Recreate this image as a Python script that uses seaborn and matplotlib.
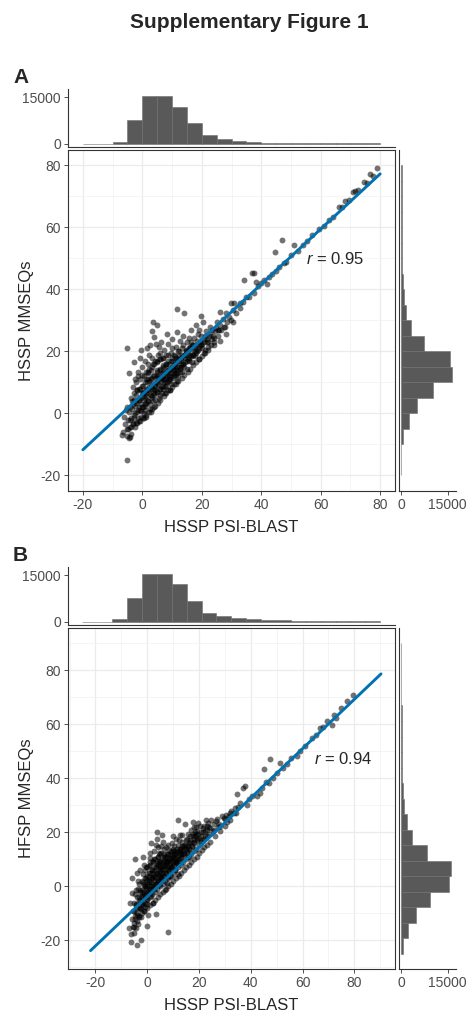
import numpy as np
import matplotlib
matplotlib.use("Agg")
import matplotlib.pyplot as plt
from matplotlib.ticker import MultipleLocator, FixedLocator
import seaborn as sns

# ---- panel A: HSSP PSI-BLAST vs HSSP MMSEQs
a_x = [-5.3, -5.1, -6.8, -4.2,
       -6.5, -5.8, -5.2, -4.5, -4.8, -4.2, -6.0, -5.0, -4.4, -3.8, -3.5, -4.6, -3.1, -3.8,
       -2.8, -2.5, -2.2, -2.9, -1.8, -1.5, -1.2, -1.0, -0.9, -0.8, -0.5, -0.3, -0.2, -2.0, -1.5, 0.0, -0.6,
       0.5, 0.8, 1.0, 1.2, 1.5, 1.8, 2.0, 2.2, 2.5, 0.3, 0.6, 1.0, 1.4, 2.8, 2.4, 2.9, 3.0, 2.7, 1.7, 3.2, 3.6, 4.0, 1.1, 3.3,
       3.5, 4.0, 4.2, 4.5, 4.8, 5.0, 5.1, 5.4, 5.7, 6.0, 6.2, 6.5, 6.8, 7.0, 5.5, 3.8, 4.6, 6.3, 7.2, 6.7, 5.2, 3.7,
       7.5, 7.8, 8.0, 8.3, 8.6, 9.0, 9.2, 9.5, 9.8, 10.0, 10.3, 10.6, 10.9, 8.8, 9.4, 11.0, 7.3, 10.1, 8.2,
       11.3, 11.6, 11.8, 11.7, 12.0, 12.3, 12.6, 13.0, 13.3, 13.6, 14.0, 14.1, 14.4, 14.8, 15.0, 12.8, 11.5, 13.8,
       15.3, 15.7, 16.0, 16.3, 16.8, 17.0, 17.4, 17.8, 18.0, 18.5, 18.8, 19.2, 19.5, 19.9, 20.0, 16.5, 18.2,
       20.4, 20.8, 21.2, 21.5, 22.0, 22.4, 22.7, 23.0, 23.5, 24.0, 24.6, 25.0, 25.4, 26.0, 26.0, 26.5, 27.0, 27.5,
       28.2, 28.5, 29.0, 29.9, 29.9, 30.4, 31.0, 30.5,
       31.5, 32.7, 33.0, 34.0, 34.3, 35.0, 36.0, 36.9, 37.7, 37.5, 38.2, 39.0, 40.0, 41.0, 42.1, 42.7, 43.5, 44.7,
       45.0, 46.0, 47.1, 47.5, 48.5, 50.0, 51.0, 52.5, 54.0, 55.5, 57.0, 59.3, 61.0, 62.7, 64.0, 66.0, 67.2, 68.2,
       69.5, 71.0, 71.6, 72.5, 74.7, 75.5, 76.6, 77.5, 79.0]
a_y = [-14.9, 21.0, -6.9, -7.7,
       -6.0, -3.5, -7.2, -8.0, -5.0, -2.0, -1.0, 2.0, 0.5, -4.5, 4.0, 13.0, 8.7, -6.5,
       -1.5, 2.5, 6.0, 16.7, -3.0, 1.0, 4.5, 8.0, 18.0, 11.0, -1.0, 3.0, 6.5, 10.0, 13.5, 15.0, 20.5,
       0.0, 2.5, 5.0, 7.5, 10.0, 13.0, 16.0, 19.0, 22.0, 9.0, 12.0, 17.0, 3.5, 6.0, 8.5, 11.0, 14.0, 1.5, 21.0, 26.6, 29.6, 24.8, -1.0, 18.0,
       4.0, 6.5, 9.0, 11.5, 14.0, 16.5, 28.5, 19.0, 21.5, 8.0, 10.5, 13.0, 15.5, 18.0, 5.0, 2.0, 22.5, 23.0, 11.0, 6.5, 12.5, 16.0,
       8.5, 13.5, 16.0, 10.0, 19.0, 12.0, 14.5, 9.5, 17.0, 21.0, 11.5, 14.0, 18.5, 22.5, 7.5, 16.0, 20.5, 24.0, 25.5,
       12.5, 26.4, 33.6, 15.0, 17.5, 20.0, 13.5, 16.0, 19.0, 22.0, 15.0, 32.3, 18.0, 20.5, 14.5, 23.5, 10.5, 25.0,
       17.5, 21.0, 19.0, 23.0, 16.5, 20.5, 24.5, 18.5, 22.0, 20.0, 25.5, 17.5, 23.0, 31.4, 21.0, 27.0, 28.5,
       29.6, 24.0, 20.5, 26.5, 23.0, 25.0, 28.0, 22.0, 27.0, 24.5, 26.5, 29.5, 25.0, 32.8, 28.5, 27.0, 30.5, 28.0,
       32.3, 29.5, 31.0, 30.1, 35.7, 33.3, 35.5, 29.5,
       32.5, 35.5, 34.0, 36.0, 43.2, 37.5, 37.6, 45.3, 45.3, 39.0, 42.5, 41.0, 42.0, 43.0, 41.9, 44.1, 45.0, 52.1,
       46.0, 47.3, 56.1, 48.5, 49.0, 51.0, 54.2, 52.5, 54.5, 55.5, 57.5, 59.6, 60.5, 62.3, 63.5, 66.6, 66.5, 68.7,
       69.0, 71.4, 71.9, 72.0, 74.6, 74.5, 77.3, 76.5, 79.2]
# denser core of the A cloud
a_core_x = [-3.2, -2.6, -2.1, -1.6, -1.1, -0.7, -0.4, -2.4, -3.5, -1.9, -0.9, -2.7,
            0.2, 0.4, 0.7, 0.9, 1.3, 1.6, 1.9, 2.1, 2.3, 2.6, 2.9, 3.1, 3.4, 3.6, 3.9, 0.1, 1.2, 0.6, 3.0, 2.0,
            4.1, 4.3, 4.6, 4.9, 5.1, 5.3, 5.6, 5.9, 6.1, 6.4, 6.6, 6.9, 7.1, 7.4, 7.6, 7.9, 4.4, 5.8, 7.7, 6.0,
            8.1, 8.4, 8.7, 8.9, 9.1, 9.3, 9.6, 9.9, 10.2, 10.4, 10.7, 11.0, 11.2, 11.5, 11.8, 8.5, 10.8, 9.7, 11.4, 12.0,
            12.2, 12.5, 12.8, 13.1, 13.4, 13.7, 14.0, 14.3, 14.6, 15.0, 15.3, 15.6, 16.0, 16.4, 16.8, 17.2, 17.6, 18.0, 13.2, 15.8,
            18.4, 18.8, 19.3, 19.7, 20.2, 20.6, 21.0, 21.6, 22.2, 22.8, 23.4, 24.2, 24.8, 25.6, 19.0]
a_core_y = [-3.0, 0.0, 3.5, -1.5, 2.0, 5.0, 0.8, -4.5, 1.5, 7.5, -2.5, 4.5,
            2.0, 4.5, 7.0, 1.0, 5.5, 8.0, 4.0, 6.5, 10.5, 3.0, 8.5, 5.5, 9.5, 12.0, 7.5, 6.5, 11.0, -1.5, 0.5, 13.5,
            4.5, 7.5, 10.0, 12.0, 7.0, 9.5, 11.5, 14.5, 6.0, 9.0, 11.5, 13.5, 8.0, 10.0, 15.0, 11.5, 17.0, 17.5, 6.5, 19.5,
            9.0, 12.0, 14.0, 10.5, 16.0, 11.0, 13.0, 15.0, 13.0, 17.0, 12.0, 14.5, 18.0, 13.0, 17.0, 7.5, 9.5, 19.5, 21.5, 12.0,
            15.0, 18.5, 14.5, 17.5, 21.0, 16.0, 19.0, 16.5, 20.0, 23.0, 19.5, 17.0, 21.5, 18.5, 22.0, 19.0, 21.5, 19.5, 13.5, 24.5,
            23.5, 20.5, 22.0, 25.0, 22.5, 19.5, 25.0, 23.0, 21.5, 25.5, 24.0, 23.0, 27.5, 27.0, 27.0]
a_band_x = [-5.2, -4.9, -5.4,
            -4.1, -3.8, -4.3, -3.9,
            -3.1, -2.8, -3.3, -2.9,
            -2.2, -1.9, -2.1, -1.7, -2.3,
            -1.1, -0.8, -1.2, -0.9, -1.3,
            0.1, -0.2, 0.3, 0.0, -0.1,
            1.2, 0.9, 1.1, 0.8, 1.3,
            2.1, 1.8, 2.2, 1.9, 2.3,
            3.2, 2.9, 3.1, 2.8, 3.3,
            4.1, 3.8, 4.2, 3.9, 4.0,
            5.2, 4.9, 5.1, 4.8, 5.0,
            6.1, 5.8, 6.2, 5.9, 6.0,
            7.2, 6.9, 7.1, 6.8, 7.0,
            8.1, 7.8, 8.2, 7.9, 8.0,
            9.2, 8.9, 9.1, 8.8,
            10.1, 9.8, 10.2, 9.9,
            11.2, 10.9, 11.1, 10.8,
            12.1, 11.8, 12.2, 11.9,
            13.2, 12.9, 13.1,
            14.1, 13.8, 14.2,
            15.2, 14.9, 15.1,
            16.1, 15.8, 16.2,
            17.2, 16.9, 17.1,
            18.1, 17.8,
            19.2, 18.9,
            20.1, 19.8,
            21.2, 20.9,
            22.1, 21.8,
            24.2, 23.9,
            26.1, 25.8,
            28.2, 27.9]
a_band_y = [-5.0, -2.0, 1.0,
            -4.5, -1.5, 2.0, 5.0,
            -3.5, -0.5, 3.0, 6.5,
            -3.0, 0.5, 4.0, 7.5, 11.0,
            -2.5, 1.0, 4.5, 8.0, 12.0,
            -1.5, 2.0, 5.5, 9.0, 12.5,
            -0.5, 3.0, 6.5, 10.0, 13.5,
            0.5, 4.0, 7.5, 11.0, 14.5,
            1.5, 5.0, 8.0, 11.5, 15.0,
            2.5, 6.0, 9.0, 12.5, 16.0,
            3.5, 7.0, 10.0, 13.5, 17.0,
            4.5, 8.0, 11.0, 14.0, 17.5,
            5.5, 9.0, 12.0, 15.0, 18.0,
            6.5, 10.0, 13.0, 16.0, 19.0,
            7.5, 11.0, 14.0, 17.0,
            8.5, 12.0, 15.0, 18.0,
            9.5, 13.0, 16.0, 19.0,
            10.5, 14.0, 17.0, 20.0,
            11.5, 15.0, 18.0,
            12.5, 16.0, 19.0,
            13.5, 17.0, 20.0,
            14.5, 18.0, 21.0,
            15.5, 19.0, 22.0,
            16.5, 20.0,
            17.5, 21.0,
            18.5, 22.0,
            19.5, 23.0,
            20.5, 24.0,
            22.0, 25.0,
            23.5, 27.0,
            25.5, 28.0]
a_fit_x = [-20, 80]
a_fit_y = [-11.7, 77.3]
a_r = 0.95

# marginal histograms for A (bin edges and counts)
a_edges = [-20, -15, -10, -5, 0, 5, 10, 15, 20, 25, 30, 35, 40, 45, 50, 55, 60, 65, 70, 75, 80]
a_top_counts = [20, 60, 750, 7550, 15540, 15320, 11980, 6800, 2800, 1620,
                1080, 650, 430, 430, 320, 320, 220, 220, 300, 200]
a_right_counts = [30, 60, 540, 2700, 5000, 10200, 16500, 15750, 7400, 3100,
                  1600, 860, 540, 430, 320, 320, 220, 220, 220, 200]

# ---- panel B: HSSP PSI-BLAST vs HFSP MMSEQs
b_x = [-7.1, -6.4, -5.1, -3.8, -2.5, -6.0, -5.5, -5.0, -4.5, -4.9, -4.0, -3.5, -3.2, -6.5, -4.2, -3.0, -5.8, -3.6,
       -2.5, -2.2, -2.0, -1.8, -1.5, -1.2, -1.0, -0.8, -0.5, -0.3, 0.0, 0.2, 0.5, 0.7, 0.9, 1.0, -1.4, -2.8, -0.1, 0.4,
       1.3, 1.5, 1.8, 2.0, 2.3, 2.5, 2.8, 3.0, 3.2, 3.3, 3.6, 3.6, 3.9, 4.0, 4.2, 4.4, 4.6, 4.8, 5.0, 1.6, 2.1, 3.4,
       5.3, 5.5, 5.8, 5.8, 6.0, 6.3, 6.6, 6.9, 7.2, 7.5, 7.8, 7.8, 8.1, 8.2, 8.5, 8.8, 9.0, 6.1, 7.0, 8.6,
       9.3, 9.6, 9.9, 10.2, 10.5, 10.8, 11.0, 11.3, 11.6, 12.0, 12.0, 12.3, 12.6, 13.0, 13.3, 13.6, 14.0, 10.0, 11.8,
       14.3, 14.6, 14.8, 15.2, 15.5, 15.9, 16.2, 16.5, 17.0, 17.3, 17.7, 18.1, 18.5, 18.9, 19.3, 19.8, 20.4, 20.6, 16.0, 17.5,
       21.0, 21.5, 22.0, 22.5, 23.2, 23.6, 24.2, 24.8, 25.3, 25.8, 26.4, 27.0, 27.5, 28.3, 28.8, 29.5, 30.3, 30.8,
       31.5, 32.5, 33.5, 34.8, 35.0, 36.0, 37.1, 37.6, 38.6, 39.5, 40.5, 42.5, 43.5, 44.5, 45.1, 46.0, 47.0, 47.6,
       48.5, 50.0, 51.2, 52.5, 54.0, 55.5, 57.9, 59.2, 61.0, 63.7, 65.0, 66.9, 68.0, 69.5, 71.4, 72.1, 73.0, 74.7,
       77.2, 79.5]
b_y = [-15.4, -20.7, -17.2, -21.6, -20.0, -12.0, -9.0, -13.5, -6.5, 10.2, -10.5, -14.0, -4.0, -6.0, -1.5, -8.0, -2.5, 2.0,
       -11.5, -6.0, -2.0, 1.5, 4.5, -9.0, -4.0, 0.0, 3.0, 7.0, -6.5, -2.0, 1.5, 5.0, 9.0, 12.4, 8.0, 6.0, -14.5, -10.5,
       -3.5, 0.0, 3.0, 6.0, 9.5, 13.0, -1.0, 2.0, -10.1, 5.0, 8.0, 20.2, 17.6, 11.0, 14.5, 0.5, 3.5, 6.5, 9.5, 16.0, -6.0, 15.5,
       12.5, 2.0, 19.2, 5.0, 8.0, 11.0, 14.0, 3.5, 6.5, 9.0, 1.3, 12.0, -17.0, 15.5, 5.5, 8.0, 10.5, 16.5, -1.5, 13.5,
       4.0, 7.0, 9.5, 12.0, 15.0, 6.0, 8.5, 11.0, 14.0, 24.7, 9.5, 17.0, 12.5, 10.5, 15.0, 19.0, 12.0, 18.5, 4.5,
       14.5, 23.2, 17.0, 12.5, 15.5, 19.5, 14.0, 17.0, 21.0, 15.0, 18.5, 16.5, 20.0, 22.0, 17.5, 19.5, 22.3, 18.6, 11.0, 24.0,
       17.0, 20.0, 22.5, 18.5, 21.0, 23.5, 21.5, 24.5, 20.5, 23.0, 24.1, 25.0, 22.0, 22.3, 26.0, 25.5, 26.6, 24.0,
       26.0, 28.0, 27.2, 34.4, 29.5, 31.0, 36.5, 37.1, 30.3, 32.5, 33.5, 33.4, 34.6, 36.5, 43.5, 38.5, 38.3, 47.2,
       40.0, 42.0, 45.7, 44.0, 45.5, 47.5, 48.2, 50.0, 52.0, 55.0, 56.0, 58.7, 59.0, 61.1, 59.9, 63.6, 62.5, 66.1,
       68.6, 70.7]
# denser core of the B cloud
b_core_x = [-5.6, -4.8, -4.3, -3.9, -3.3, -2.9, -2.4, -2.1, -5.3, -4.6, -3.7, -6.2, -2.7, -4.1, -5.9,
            -1.7, -1.3, -1.1, -0.8, -0.6, -0.3, -0.1, 0.1, 0.3, 0.6, 0.8, 1.1, 1.4, 1.7, 1.9, -1.6, 0.5, 1.2,
            2.2, 2.4, 2.6, 2.9, 3.1, 3.4, 3.7, 3.9, 4.1, 4.3, 4.5, 4.7, 4.9, 5.1, 5.4, 5.6, 5.9, 2.7, 4.4, 5.2,
            6.2, 6.4, 6.7, 6.9, 7.1, 7.4, 7.6, 7.9, 8.3, 8.5, 8.8, 9.0, 9.2, 9.5, 9.8, 6.5, 7.3, 8.1, 9.6,
            10.1, 10.4, 10.7, 11.0, 11.3, 11.6, 11.9, 12.2, 12.5, 12.9, 13.2, 13.5, 13.9, 14.2, 14.6, 15.0, 15.4, 15.8, 12.7, 11.2,
            16.3, 16.7, 17.1, 17.6, 18.0, 18.4, 18.9, 19.4, 20.0, 20.8, 21.5, 22.3, 23.0, 23.8, 19.7, 17.9, 22.7]
b_core_y = [-15.0, -11.0, -15.5, -8.0, -11.5, -5.5, -8.5, -3.5, -6.0, -3.0, -1.0, -17.5, -1.5, 5.0, 3.0,
            -6.5, -2.0, 1.0, -7.5, -3.0, -0.5, 2.5, -4.5, 0.0, -1.0, 3.5, -2.5, 1.5, 5.0, -1.0, 11.0, 7.5, 10.5,
            1.0, 3.5, 6.0, 0.0, 3.5, 7.0, 1.5, 4.5, 8.5, 2.5, 5.5, 9.0, 4.0, 7.0, 3.5, 6.5, 9.0, 10.0, 12.5, 15.0,
            5.0, 7.5, 9.5, 5.5, 8.5, 11.0, 7.0, 9.5, 7.0, 10.0, 12.0, 6.5, 9.0, 11.5, 13.0, 12.0, 14.5, 3.5, 16.0,
            8.5, 10.5, 13.0, 10.0, 12.5, 9.0, 15.5, 11.5, 14.0, 12.0, 13.0, 16.5, 14.0, 12.5, 15.5, 14.0, 17.5, 15.0, 19.0, 17.5,
            16.0, 18.5, 16.5, 19.5, 17.5, 18.5, 19.5, 20.5, 18.0, 20.0, 21.5, 20.5, 22.5, 22.0, 23.5, 22.0, 24.5]
b_band_x = [-5.1, -4.8, -5.2,
            -4.1, -3.9, -4.2, -3.8,
            -3.1, -2.9, -3.2, -2.8, -3.0,
            -2.1, -1.9, -2.2, -1.8, -2.0,
            -1.1, -0.9, -1.2, -0.8, -1.0, -0.9,
            0.1, -0.1, 0.2, -0.2, 0.0, 0.1,
            1.1, 0.9, 1.2, 0.8, 1.0, 0.9,
            2.1, 1.9, 2.2, 1.8, 2.0, 2.1,
            3.1, 2.9, 3.2, 2.8, 3.0, 2.9,
            4.1, 3.9, 4.2, 3.8, 4.0, 4.1,
            5.1, 4.9, 5.2, 4.8, 5.0, 4.9,
            6.1, 5.9, 6.2, 5.8, 6.0,
            7.1, 6.9, 7.2, 6.8, 7.0,
            8.1, 7.9, 8.2, 7.8, 8.0,
            9.1, 8.9, 9.2, 8.8, 9.0,
            10.1, 9.9, 10.2, 9.8, 10.0,
            11.1, 10.9, 11.2, 10.8,
            12.1, 11.9, 12.2, 11.8,
            13.1, 12.9, 13.2, 12.8,
            14.1, 13.9, 14.2, 13.8,
            15.1, 14.9, 15.2,
            16.1, 15.9, 16.2,
            17.1, 16.9, 17.2,
            18.1, 17.9, 18.2,
            19.1, 18.9, 19.2,
            20.1, 19.9,
            21.1, 20.9,
            22.1, 21.9,
            23.1, 22.9,
            24.1, 23.9,
            26.1, 25.9,
            28.1, 27.9,
            30.1, 29.9,
            32.1, 31.9,
            34.1, 33.9]
b_band_y = [-15.0, -12.0, -9.0,
            -13.0, -10.0, -7.0, -4.0,
            -11.0, -8.0, -5.0, -2.0, 1.0,
            -10.0, -7.0, -4.0, -1.0, 2.0,
            -9.0, -6.0, -3.0, 0.0, 3.0, 6.0,
            -8.0, -5.0, -2.0, 1.0, 4.0, 7.0,
            -7.0, -4.0, -1.0, 2.0, 5.0, 8.0,
            -6.0, -3.0, 0.0, 3.0, 6.0, 9.0,
            -5.0, -2.0, 1.0, 4.0, 7.0, 10.0,
            -4.0, -1.0, 2.0, 5.0, 8.0, 11.0,
            -3.0, 0.0, 3.0, 6.0, 9.0, 12.0,
            -2.0, 1.0, 4.0, 7.0, 10.0,
            -1.0, 2.0, 5.0, 8.0, 11.0,
            0.0, 3.0, 6.0, 9.0, 12.0,
            1.0, 4.0, 7.0, 10.0, 13.0,
            2.0, 5.0, 8.0, 11.0, 14.0,
            3.0, 6.0, 9.0, 12.0,
            4.0, 7.0, 10.0, 13.0,
            5.0, 8.0, 11.0, 14.0,
            6.0, 9.0, 12.0, 15.0,
            7.0, 10.0, 13.0,
            8.0, 11.0, 14.0,
            9.0, 12.0, 15.0,
            10.0, 13.0, 16.0,
            11.0, 14.0, 17.0,
            12.5, 15.5,
            13.5, 16.5,
            14.5, 17.5,
            15.5, 18.5,
            16.5, 19.5,
            18.5, 21.0,
            20.5, 23.0,
            22.5, 25.0,
            24.5, 27.0,
            27.0, 29.0]
b_fit_x = [-21.9, 90.3]
b_fit_y = [-23.8, 78.7]
b_r = 0.94

b_edges = [-25, -19.25, -13.5, -7.75, -2, 3.75, 9.5, 15.25, 21, 26.75, 32.5,
           38.25, 44, 49.75, 55.5, 61.25, 67, 72.75, 78.5, 84.25, 90]
b_top_counts = [20, 50, 860, 7600, 15540, 15320, 12100, 6860, 3000, 1820,
                1180, 860, 640, 540, 430, 430, 320, 320, 430, 320]
b_right_counts = [750, 2360, 4820, 9320, 15300, 16070, 8250, 3540, 1820, 960,
                  640, 430, 320, 220, 220, 220, 150, 150, 0, 0]

panels = [
    dict(tag="A", x=a_x + a_core_x + a_band_x, y=a_y + a_core_y + a_band_y,
         fx=a_fit_x, fy=a_fit_y, r=a_r,
         edges=a_edges, top=a_top_counts, right=a_right_counts, ylab="HSSP MMSEQs",
         lim=(-25, 85), rpos=(64.7, 49.7), y0=89),
    dict(tag="B", x=b_x + b_core_x + b_band_x, y=b_y + b_core_y + b_band_y,
         fx=b_fit_x, fy=b_fit_y, r=b_r,
         edges=b_edges, top=b_top_counts, right=b_right_counts, ylab="HFSP MMSEQs",
         lim=(-30.6, 95.7), rpos=(75.6, 47.3), y0=567),
]

sns.set_theme(style="white")
plt.rcParams["font.family"] = ["Liberation Sans", "DejaVu Sans"]
plt.rcParams["mathtext.fontset"] = "custom"
plt.rcParams["mathtext.it"] = "Liberation Sans:italic"
plt.rcParams["mathtext.rm"] = "Liberation Sans"
plt.rcParams["axes.unicode_minus"] = False

W, H = 468, 1014
fig = plt.figure(figsize=(W / 100, H / 100), dpi=100)


def box(x0, y0, x1, y1):
    return [x0 / W, 1 - y1 / H, (x1 - x0) / W, (y1 - y0) / H]


tick_kw = dict(labelsize=10, labelcolor="#4D4D4D", color="#333333", length=3, width=0.6, pad=2)
hist_color = "#595959"

fig.text(249 / W, 1 - 22 / H, "Supplementary Figure 1", ha="center", va="center",
         fontsize=15, fontweight="bold")

for p in panels:
    t = p["y0"]
    ax = fig.add_axes(box(68, t + 61, 395, t + 402))
    axt = fig.add_axes(box(68, t, 395, t + 58), sharex=ax)
    axr = fig.add_axes(box(399, t + 61, 456, t + 402), sharey=ax)

    # main scatter
    sns.scatterplot(x=p["x"], y=p["y"], ax=ax, color="black", alpha=0.55, s=18,
                    linewidth=0, zorder=3)
    sns.lineplot(x=p["fx"], y=p["fy"], ax=ax, color="#0072B2", linewidth=2.1, zorder=4)
    ax.set_xlim(*p["lim"])
    ax.set_ylim(*p["lim"])
    ax.xaxis.set_major_locator(FixedLocator([-20, 0, 20, 40, 60, 80]))
    ax.yaxis.set_major_locator(FixedLocator([-20, 0, 20, 40, 60, 80]))
    ax.xaxis.set_minor_locator(MultipleLocator(10))
    ax.yaxis.set_minor_locator(MultipleLocator(10))
    ax.grid(which="major", color="#EBEBEB", linewidth=0.9)
    ax.grid(which="minor", color="#F2F2F2", linewidth=0.6)
    ax.set_axisbelow(True)
    for s in ax.spines.values():
        s.set_color("#333333")
        s.set_linewidth(0.8)
    ax.tick_params(which="major", bottom=True, left=True, **tick_kw)
    ax.tick_params(which="minor", bottom=False, left=False)
    ax.set_xlabel("HSSP PSI-BLAST", fontsize=12, labelpad=6)
    ax.set_ylabel(p["ylab"], fontsize=12, labelpad=5)
    ax.text(p["rpos"][0], p["rpos"][1], r"$r$ = %.2f" % p["r"], fontsize=12,
            ha="center", va="center")

    # top marginal
    centers = [(a + b) / 2 for a, b in zip(p["edges"][:-1], p["edges"][1:])]
    sns.histplot(x=centers, weights=p["top"], bins=p["edges"], ax=axt,
                 color=hist_color, alpha=1, edgecolor="#6E6E6E", linewidth=0.4)
    axt.set_ylim(-1000, 17650)
    axt.set_yticks([0, 15000])
    axt.set_xlabel("")
    axt.set_ylabel("")
    axt.grid(False)
    for k in ["top", "right"]:
        axt.spines[k].set_visible(False)
    for k in ["left", "bottom"]:
        axt.spines[k].set_color("#333333")
        axt.spines[k].set_linewidth(0.8)
    axt.tick_params(axis="y", left=True, **tick_kw)
    axt.tick_params(axis="x", bottom=False, labelbottom=False)
    axt.text(-0.168, 1.2, p["tag"], transform=axt.transAxes, fontsize=15,
             fontweight="bold", ha="left", va="center")

    # right marginal
    sns.histplot(y=centers, weights=p["right"], bins=p["edges"], ax=axr,
                 color=hist_color, alpha=1, edgecolor="#6E6E6E", linewidth=0.4)
    axr.set_xlim(-640, 17700)
    axr.set_xticks([0, 15000])
    axr.set_xlabel("")
    axr.set_ylabel("")
    axr.grid(False)
    for k in ["top", "right"]:
        axr.spines[k].set_visible(False)
    for k in ["left", "bottom"]:
        axr.spines[k].set_color("#333333")
        axr.spines[k].set_linewidth(0.8)
    axr.tick_params(axis="x", bottom=True, **tick_kw)
    axr.tick_params(axis="y", left=False, labelleft=False)

fig.savefig("out.png", dpi=100)
